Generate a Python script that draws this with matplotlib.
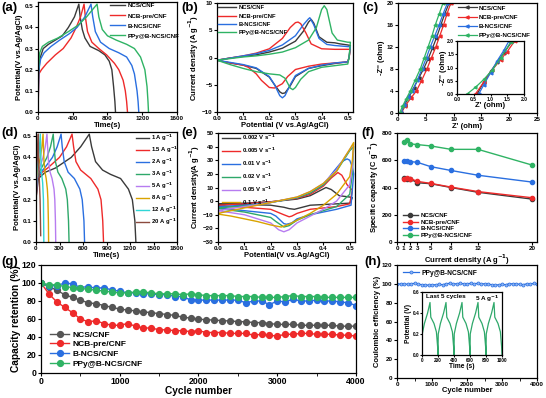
import numpy as np
import matplotlib
matplotlib.use('Agg')
import matplotlib.pyplot as plt
from matplotlib.ticker import AutoMinorLocator

plt.rcParams['font.family'] = ['Liberation Sans', 'DejaVu Sans']
plt.rcParams['font.weight'] = 'bold'
plt.rcParams['axes.labelweight'] = 'bold'
plt.rcParams['axes.linewidth'] = 0.9
plt.rcParams['xtick.major.width'] = 0.8
plt.rcParams['ytick.major.width'] = 0.8
plt.rcParams['xtick.major.size'] = 2
plt.rcParams['ytick.major.size'] = 2
plt.rcParams['xtick.labelsize'] = 4.5
plt.rcParams['ytick.labelsize'] = 4.5
plt.rcParams['xtick.major.pad'] = 1.2
plt.rcParams['ytick.major.pad'] = 1.2

K = '#3a3a3a'
R = '#ee2a2a'
B = '#2a6fe0'
G = '#2fb364'
names = ['NCS/CNF', 'NCB-pre/CNF', 'B-NCS/CNF', 'PPy@B-NCS/CNF']
cols = [K, R, B, G]

# ---- (a) GCD of four electrodes
a_t_ncs = [0, 5, 20, 60, 120, 200, 280, 350, 420, 470, 485, 510, 540, 600, 700, 770, 820, 850, 870, 885, 892]
a_v_ncs = [0, 0.15, 0.25, 0.30, 0.32, 0.34, 0.36, 0.40, 0.45, 0.51, 0.45, 0.39, 0.35, 0.31, 0.29, 0.27, 0.24, 0.20, 0.12, 0.05, 0]
a_t_ncb = [0, 10, 40, 100, 200, 290, 380, 440, 490, 530, 545, 570, 620, 700, 790, 880, 930, 980, 1005, 1020, 1030]
a_v_ncb = [0, 0.18, 0.20, 0.23, 0.27, 0.30, 0.35, 0.40, 0.45, 0.51, 0.45, 0.38, 0.33, 0.30, 0.27, 0.23, 0.20, 0.15, 0.10, 0.05, 0]
a_t_bncs = [0, 10, 30, 70, 150, 250, 360, 450, 540, 610, 630, 660, 720, 820, 930, 1020, 1080, 1110, 1140, 1152, 1160]
a_v_bncs = [0, 0.20, 0.25, 0.28, 0.31, 0.34, 0.37, 0.40, 0.45, 0.51, 0.45, 0.38, 0.33, 0.30, 0.28, 0.26, 0.22, 0.18, 0.10, 0.05, 0]
a_t_ppy = [0, 5, 20, 50, 120, 230, 350, 460, 560, 680, 700, 740, 800, 900, 1020, 1110, 1180, 1230, 1255, 1266, 1272]
a_v_ppy = [0, 0.20, 0.28, 0.31, 0.33, 0.35, 0.38, 0.41, 0.45, 0.51, 0.45, 0.39, 0.36, 0.34, 0.32, 0.30, 0.26, 0.20, 0.12, 0.05, 0]

# ---- (b) CV of four electrodes (forward + reverse)
b_v_ncs = [0, 0.05, 0.1, 0.15, 0.2, 0.25, 0.3, 0.33, 0.35, 0.36, 0.37, 0.39, 0.42, 0.45, 0.47, 0.5, 0.51,
           0.505, 0.5, 0.45, 0.4, 0.35, 0.3, 0.28, 0.26, 0.25, 0.24, 0.22, 0.2, 0.15, 0.1, 0.05, 0]
b_j_ncs = [-0.5, -0.1, 0.2, 0.5, 1.0, 1.7, 3.0, 4.8, 6.5, 7.0, 6.3, 3.8, 2.8, 2.7, 2.5, 2.3, 2.2,
           0, -0.8, -1.1, -1.5, -2.0, -3.5, -5.2, -6.5, -6.6, -6.3, -5.0, -3.6, -2.0, -1.4, -1.0, -0.5]
b_v_ncb = [0, 0.05, 0.1, 0.15, 0.2, 0.25, 0.28, 0.3, 0.31, 0.32, 0.34, 0.36, 0.4, 0.45, 0.5, 0.51,
           0.505, 0.5, 0.45, 0.4, 0.35, 0.3, 0.27, 0.25, 0.22, 0.2, 0.17, 0.15, 0.12, 0.1, 0.05, 0]
b_j_ncb = [-0.5, -0.1, 0.3, 0.8, 1.6, 3.5, 5.5, 6.4, 6.5, 6.2, 4.5, 2.5, 1.6, 1.5, 1.5, 1.5,
           0, -0.8, -1.0, -1.2, -1.6, -2.2, -3.5, -4.8, -5.6, -5.5, -4.2, -3.0, -1.8, -1.4, -1.0, -0.5]
b_v_bncs = [0, 0.05, 0.1, 0.15, 0.2, 0.25, 0.3, 0.33, 0.35, 0.355, 0.37, 0.39, 0.42, 0.45, 0.5, 0.51,
            0.505, 0.5, 0.45, 0.4, 0.35, 0.3, 0.28, 0.26, 0.25, 0.24, 0.22, 0.2, 0.15, 0.1, 0.05, 0]
b_j_bncs = [-0.5, -0.1, 0.3, 0.7, 1.3, 2.3, 4.0, 6.0, 7.1, 7.3, 6.0, 3.5, 2.4, 2.2, 2.0, 2.0,
            0, -0.8, -1.0, -1.4, -2.0, -3.3, -5.0, -7.0, -7.4, -7.0, -5.0, -3.5, -1.9, -1.3, -0.9, -0.5]
b_v_ppy = [0, 0.05, 0.1, 0.15, 0.2, 0.25, 0.3, 0.35, 0.38, 0.4, 0.41, 0.42, 0.44, 0.46, 0.5, 0.51,
           0.505, 0.5, 0.45, 0.4, 0.35, 0.32, 0.3, 0.29, 0.28, 0.26, 0.24, 0.2, 0.15, 0.1, 0.05, 0]
b_j_ppy = [-0.5, -0.2, 0.1, 0.3, 0.6, 1.0, 1.8, 3.2, 5.5, 8.8, 9.5, 8.8, 4.5, 3.2, 2.8, 2.8,
           0, -1.2, -1.5, -1.8, -2.6, -4.0, -5.5, -5.9, -5.6, -3.8, -3.2, -3.0, -2.6, -2.0, -1.3, -0.5]

# ---- (c) Nyquist
c_x_ncs = [0.6, 1.2, 2.0, 2.8, 3.7, 4.6, 5.4, 6.2, 6.9, 7.7, 8.4, 9.2]
c_y_ncs = [0, 1.5, 3.0, 4.5, 6.3, 8.0, 9.8, 11.8, 13.6, 16.0, 18.0, 20]
c_x_ncb = [0.6, 1.3, 2.3, 3.3, 4.2, 5.2, 6.0, 6.8, 7.5, 8.2, 8.8, 9.5]
c_y_ncb = [0, 1.3, 2.7, 4.0, 5.8, 8.0, 10.0, 12.0, 14.0, 16.0, 18.0, 20]
c_x_bncs = [0.6, 1.1, 1.8, 2.6, 3.5, 4.3, 5.1, 5.8, 6.6, 7.4, 8.1, 8.9]
c_y_bncs = [0, 1.5, 3.0, 4.0, 6.0, 8.0, 10.0, 12.0, 14.0, 16.0, 18.0, 20]
c_x_ppy = [0.3, 0.8, 1.5, 2.2, 3.1, 4.0, 4.7, 5.4, 6.1, 6.7, 7.4, 8.1]
c_y_ppy = [0, 1.2, 2.6, 4.0, 6.0, 8.0, 10.0, 12.0, 14.0, 16.0, 18.0, 20]
ci_x_ncs = [0.6, 0.8, 1.0, 1.2, 1.4, 1.65]
ci_y_ncs = [0, 0.45, 0.85, 1.2, 1.55, 2.0]
ci_x_ncb = [0.55, 0.8, 1.05, 1.3, 1.5, 1.72]
ci_y_ncb = [0, 0.45, 0.9, 1.3, 1.6, 2.0]
ci_x_bncs = [0.65, 0.8, 1.0, 1.2, 1.4, 1.55]
ci_y_bncs = [0, 0.35, 0.8, 1.25, 1.65, 2.0]
ci_x_ppy = [0.3, 0.55, 0.8, 1.05, 1.3, 1.6]
ci_y_ppy = [0, 0.25, 0.55, 0.9, 1.35, 1.95]

# ---- (d) GCD of PPy@B-NCS/CNF at different currents
d_labels = ['1 A g$^{-1}$', '1.5 A g$^{-1}$', '2 A g$^{-1}$', '3 A g$^{-1}$',
            '5 A g$^{-1}$', '8 A g$^{-1}$', '12 A g$^{-1}$', '20 A g$^{-1}$']
d_cols = [K, R, B, '#2ea86a', '#b77cf0', '#d9a300', '#2fd6d6', '#8b4a3e']
d_t = [
    [0, 5, 30, 120, 250, 450, 570, 680, 710, 760, 850, 950, 1080, 1180, 1230, 1262, 1275],
    [0, 4, 20, 80, 150, 300, 390, 460, 480, 510, 570, 700, 790, 830, 852, 862],
    [0, 3, 15, 60, 110, 210, 270, 320, 335, 360, 410, 490, 560, 590, 612, 620],
    [0, 2, 10, 40, 70, 140, 185, 220, 230, 248, 280, 330, 380, 400, 415, 422],
    [0, 2, 8, 25, 45, 90, 118, 140, 148, 160, 180, 205, 230, 240, 248, 252],
    [0, 1, 5, 15, 28, 55, 75, 90, 95, 102, 115, 130, 145, 152, 158, 161],
    [0, 1, 3, 18, 35, 55, 62, 70, 85, 95, 100],
    [0, 1, 2, 10, 18, 30, 33, 42, 52, 57, 60],
]
d_v = [
    [0, 0.22, 0.30, 0.33, 0.35, 0.40, 0.45, 0.51, 0.45, 0.38, 0.34, 0.32, 0.30, 0.25, 0.20, 0.10, 0],
    [0, 0.22, 0.30, 0.33, 0.35, 0.40, 0.45, 0.51, 0.45, 0.38, 0.34, 0.30, 0.25, 0.20, 0.10, 0],
    [0, 0.22, 0.30, 0.33, 0.35, 0.40, 0.45, 0.51, 0.45, 0.38, 0.33, 0.30, 0.25, 0.20, 0.10, 0],
    [0, 0.22, 0.30, 0.33, 0.35, 0.40, 0.45, 0.51, 0.45, 0.38, 0.33, 0.30, 0.25, 0.20, 0.10, 0],
    [0, 0.22, 0.30, 0.33, 0.35, 0.40, 0.45, 0.51, 0.45, 0.38, 0.33, 0.30, 0.25, 0.20, 0.10, 0],
    [0, 0.22, 0.30, 0.33, 0.35, 0.40, 0.45, 0.51, 0.45, 0.38, 0.33, 0.30, 0.25, 0.20, 0.10, 0],
    [0, 0.22, 0.30, 0.36, 0.40, 0.51, 0.40, 0.33, 0.28, 0.20, 0],
    [0, 0.22, 0.30, 0.36, 0.40, 0.51, 0.40, 0.30, 0.20, 0.10, 0.03],
]

# ---- (e) CV of PPy@B-NCS/CNF at different scan rates
e_labels = ['0.002 V s$^{-1}$', '0.005 V s$^{-1}$', '0.01 V s$^{-1}$',
            '0.02 V s$^{-1}$', '0.05 V s$^{-1}$', '0.1 V s$^{-1}$']
e_cols = [K, R, B, '#2ea86a', '#b77cf0', '#d9a300']
e_v = [
    [0, 0.1, 0.2, 0.3, 0.35, 0.38, 0.41, 0.43, 0.46, 0.5, 0.51,
     0.5, 0.45, 0.4, 0.35, 0.31, 0.29, 0.27, 0.25, 0.2, 0.1, 0],
    [0, 0.1, 0.2, 0.3, 0.35, 0.4, 0.43, 0.455, 0.47, 0.49, 0.51,
     0.5, 0.45, 0.4, 0.35, 0.3, 0.28, 0.27, 0.25, 0.2, 0.1, 0],
    [0, 0.1, 0.2, 0.3, 0.35, 0.4, 0.44, 0.47, 0.49, 0.5, 0.51, 0.515,
     0.505, 0.45, 0.4, 0.35, 0.3, 0.28, 0.26, 0.25, 0.22, 0.2, 0.1, 0],
    [0, 0.1, 0.2, 0.3, 0.35, 0.4, 0.45, 0.48, 0.5, 0.515,
     0.51, 0.5, 0.45, 0.4, 0.35, 0.3, 0.27, 0.25, 0.22, 0.2, 0.1, 0],
    [0, 0.1, 0.2, 0.3, 0.35, 0.4, 0.45, 0.48, 0.5, 0.515,
     0.51, 0.5, 0.45, 0.4, 0.35, 0.3, 0.27, 0.25, 0.23, 0.2, 0.1, 0],
    [0, 0.1, 0.2, 0.3, 0.35, 0.4, 0.45, 0.48, 0.5, 0.515,
     0.51, 0.5, 0.45, 0.4, 0.35, 0.3, 0.27, 0.24, 0.2, 0.15, 0.1, 0.05, 0],
]
e_j = [
    [-2, -1.5, -0.5, 1.5, 4, 7, 10, 8.5, 4, 3, 2.5,
     -1.5, -2, -2.5, -3, -5, -6, -5.5, -4.5, -3, -2.5, -2],
    [-3, -2, -0.5, 2, 5, 11, 17, 21, 19, 12, 8,
     -2, -4, -5, -6, -9, -11, -11.5, -10, -6, -4.5, -3.5],
    [-4, -3, -1, 2.5, 6, 12, 22, 29, 31, 30, 25, 20,
     -3, -6, -8, -10, -13, -16, -17, -16.5, -11, -9, -7, -5],
    [-5, -3.5, -1, 2.5, 6, 12, 22, 31, 37, 40,
     20, 5, -4, -7, -10, -14, -18, -19, -15, -12, -8, -5.5],
    [-7, -4, -1, 3, 7, 13, 23, 32, 38, 42,
     25, 12, 0, -6, -11, -16, -21, -22.5, -21, -16, -10, -7],
    [-9, -5, -1, 3, 7, 13, 22, 32, 38, 43,
     30, 18, 5, -3, -9, -14, -17, -19, -17.5, -15, -13, -11, -9.5],
]

# ---- (f) rate capability
f_i = [1, 1.5, 2, 3, 5, 8, 12, 20]
f_ncs = [470, 465, 462, 435, 428, 400, 365, 315]
f_ncb = [465, 468, 465, 445, 430, 403, 370, 325]
f_bncs = [595, 595, 590, 585, 553, 525, 490, 440]
f_ppy = [735, 750, 720, 715, 705, 680, 680, 565]

# ---- (g) cycling stability
g_cyc = [0, 100, 200, 300, 400, 500, 600, 700, 800, 900, 1000, 1100, 1200, 1300, 1400, 1500,
         1600, 1700, 1800, 1900, 2000, 2100, 2200, 2300, 2400, 2500, 2600, 2700, 2800, 2900,
         3000, 3100, 3200, 3300, 3400, 3500, 3600, 3700, 3800, 3900, 4000]
g_ncs = [100, 96, 92, 87, 84, 81, 78, 77, 75, 73, 71, 70, 69, 68, 67, 66, 65, 64, 62, 61,
         60, 59, 59, 58, 58, 57, 57, 56, 56, 55, 54, 54, 54, 53, 53, 53, 53, 53, 52, 52, 52]
g_ncb = [100, 88, 79, 73, 67, 60, 57, 58, 55, 53, 53, 55, 52, 50, 50, 48, 48, 47, 47, 46,
         47, 45, 45, 45, 44, 44, 44, 42, 43, 42, 41, 43, 43, 44, 44, 43, 43, 43, 42, 42, 41]
g_bncs = [100, 97, 97, 100, 99, 95, 96, 94, 95, 92, 91, 89, 89, 88, 88, 87, 87, 85, 85, 81,
          81, 81, 81, 81, 81, 81, 78, 80, 80, 76, 80, 79, 82, 80, 80, 81, 80, 80, 79, 78, 75]
g_ppy = [100, 98, 98, 96, 95, 94, 93, 92, 91, 90, 89, 89, 90, 90, 89, 88, 88, 88, 87, 88,
         87, 86, 86, 86, 86, 85, 85, 85, 84, 84, 84, 85, 86, 85, 85, 85, 84, 84, 84, 84, 84]

# ---- (h) coulombic efficiency + inset GCD
h_ce = [99.5, 100, 100, 99.5, 100, 100.5, 100, 99, 99, 98.5, 99, 99, 99.5, 99, 100, 100.5,
        100, 100, 100.5, 100, 100, 100.5, 100, 100.5, 100, 100, 100, 99, 98.5, 99, 99.5,
        99, 100, 100, 100, 99.5, 99, 100, 99.5, 100.5, 99.5]
hi_t = [0, 3, 30, 70, 100, 110, 150, 180, 195, 200,
        203, 230, 270, 300, 310, 350, 380, 395, 400,
        403, 430, 470, 500, 510, 550, 580, 595, 600,
        603, 630, 670, 700, 710, 750, 780, 795, 800,
        803, 830, 870, 900, 910, 950, 980, 995, 1000]
hi_v = [0, 0.2, 0.3, 0.4, 0.5, 0.36, 0.3, 0.22, 0.08, 0,
        0.2, 0.3, 0.4, 0.5, 0.36, 0.3, 0.22, 0.08, 0,
        0.2, 0.3, 0.4, 0.5, 0.36, 0.3, 0.22, 0.08, 0,
        0.2, 0.3, 0.4, 0.5, 0.36, 0.3, 0.22, 0.08, 0,
        0.2, 0.3, 0.4, 0.5, 0.36, 0.3, 0.22, 0.08, 0]

W, H = 546, 398
fig = plt.figure(figsize=(W / 100, H / 100), dpi=100)


def px_axes(l, t, r, b):
    return fig.add_axes([l / W, 1 - b / H, (r - l) / W, (b - t) / H])


def leg(ax, x, y, fs=4.5, spacing=0.35, hl=2.2):
    return ax.legend(loc='upper left', bbox_to_anchor=(x, y), frameon=False,
                     fontsize=fs, handlelength=hl, handletextpad=0.4,
                     labelspacing=spacing, borderaxespad=0, borderpad=0)


lab_fs = 5.5
pan_fs = 9.5

# (a)
ax = px_axes(38, 2, 177, 112)
for t, v, c, n in zip([a_t_ncs, a_t_ncb, a_t_bncs, a_t_ppy],
                      [a_v_ncs, a_v_ncb, a_v_bncs, a_v_ppy], cols, names):
    ax.plot(t, v, color=c, lw=1.0, label=n)
ax.set_xlim(0, 1600)
ax.set_ylim(0, 0.52)
ax.set_xticks([0, 400, 800, 1200, 1600])
ax.set_yticks([0, 0.1, 0.2, 0.3, 0.4, 0.5])
ax.set_xlabel('Time(s)', fontsize=lab_fs, labelpad=0.5)
ax.set_ylabel('Potential(V vs.Ag/AgCl)', fontsize=lab_fs, labelpad=1)
leg(ax, 0.52, 0.99, fs=4.5, spacing=0.75, hl=2.3)

# (b)
ax = px_axes(217, 3, 353, 112)
for v, j, c, n in zip([b_v_ncs, b_v_ncb, b_v_bncs, b_v_ppy],
                      [b_j_ncs, b_j_ncb, b_j_bncs, b_j_ppy], cols, names):
    ax.plot(v, j, color=c, lw=1.0, label=n)
ax.set_xlim(0, 0.52)
ax.set_ylim(-10, 10)
ax.set_xticks([0, 0.1, 0.2, 0.3, 0.4, 0.5])
ax.set_yticks([-10, -5, 0, 5, 10])
ax.set_xlabel('Potential (V vs.Ag/AgCl)', fontsize=lab_fs, labelpad=0.5)
ax.set_ylabel('Current density (A g$^{-1}$)', fontsize=lab_fs, labelpad=1)
leg(ax, 0.01, 0.98, fs=4.2, spacing=0.55, hl=3.0)

# (c)
ax = px_axes(398, 3, 537, 113)
for x, y, c, n in zip([c_x_ncs, c_x_ncb, c_x_bncs, c_x_ppy],
                      [c_y_ncs, c_y_ncb, c_y_bncs, c_y_ppy], cols, names):
    ax.plot(x, y, color=c, lw=0.9, marker='<', ms=2.2, label=n)
ax.set_xlim(0, 25)
ax.set_ylim(0, 20)
ax.set_xticks([0, 5, 10, 15, 20, 25])
ax.set_yticks([0, 4, 8, 12, 16, 20])
ax.set_xlabel("Z' (ohm)", fontsize=lab_fs, labelpad=0.5)
ax.set_ylabel("-Z'' (ohm)", fontsize=lab_fs, labelpad=1)
leg(ax, 0.43, 0.98, fs=4.5, spacing=0.6, hl=3.0)
axi = px_axes(457, 41, 524, 94)
for x, y, c in zip([ci_x_ncs, ci_x_ncb, ci_x_bncs, ci_x_ppy],
                   [ci_y_ncs, ci_y_ncb, ci_y_bncs, ci_y_ppy], cols):
    axi.plot(x, y, color=c, lw=0.9, marker='<', ms=2)
axi.set_xlim(0, 2)
axi.set_ylim(0, 2)
axi.set_xticks([0, 0.5, 1.0, 1.5, 2.0])
axi.set_yticks([0, 0.5, 1.0, 1.5, 2.0])
axi.tick_params(labelsize=3.6, length=1.2, pad=0.8)
axi.set_xlabel("Z' (ohm)", fontsize=5.5, labelpad=0)
axi.set_ylabel("-Z'' (ohm)", fontsize=5.5, labelpad=0)

# (d)
ax = px_axes(36, 132, 177, 242)
for t, v, c, n in zip(d_t, d_v, d_cols, d_labels):
    ax.plot(t, v, color=c, lw=1.0, label=n)
ax.set_xlim(0, 1800)
ax.set_ylim(0, 0.52)
ax.set_xticks([0, 300, 600, 900, 1200, 1500, 1800])
ax.set_yticks([0, 0.1, 0.2, 0.3, 0.4, 0.5])
ax.set_xlabel('Time(s)', fontsize=lab_fs, labelpad=0.5)
ax.set_ylabel('Potential(V vs.Ag/AgCl)', fontsize=lab_fs, labelpad=1)
leg(ax, 0.71, 0.99, fs=4.2, spacing=0.28, hl=2.2)

# (e)
ax = px_axes(218, 133, 355, 242)
for v, j, c, n in zip(e_v, e_j, e_cols, e_labels):
    ax.plot(v, j, color=c, lw=1.0, label=n)
ax.set_xlim(0, 0.52)
ax.set_ylim(-30, 50)
ax.set_xticks([0, 0.1, 0.2, 0.3, 0.4, 0.5])
ax.set_yticks([-30, -20, -10, 0, 10, 20, 30, 40, 50])
ax.set_xlabel('Potential(V vs.Ag/AgCl)', fontsize=lab_fs, labelpad=0.5)
ax.set_ylabel('Current density(A g$^{-1}$)', fontsize=lab_fs, labelpad=1)
leg(ax, 0.03, 1.0, fs=4.3, spacing=0.6, hl=3.0)

# (f)
ax = px_axes(397, 133, 537, 242)
for y, c, n in zip([f_ncs, f_ncb, f_bncs, f_ppy], cols, names):
    ax.plot(f_i, y, color=c, lw=1.0, marker='o', ms=3, mfc=c, mec=c, label=n)
ax.set_xlim(0, 20.75)
ax.set_ylim(0, 800)
ax.set_xticks([0, 1, 2, 3, 5, 8, 12, 20])
ax.set_yticks([0, 200, 400, 600, 800])
ax.set_xlabel('Current density (A g$^{-1}$)', fontsize=lab_fs, labelpad=0.5)
ax.set_ylabel('Specific capacity (C g$^{-1}$)', fontsize=lab_fs, labelpad=1)
leg(ax, 0.04, 0.27, fs=4.5, spacing=0.22, hl=2.5)

# (g)
ax = px_axes(41, 265, 356, 373)
for y, c, n in zip([g_ncs, g_ncb, g_bncs, g_ppy], ['#555555', R, B, G], names):
    ax.plot(g_cyc, y, color=c, lw=1.0, marker='o', ms=4.2, mfc=c, mec=c, label=n)
ax.set_xlim(0, 4000)
ax.set_ylim(0, 120)
ax.set_xticks([0, 1000, 2000, 3000, 4000])
ax.set_yticks([0, 20, 40, 60, 80, 100, 120])
ax.xaxis.set_minor_locator(AutoMinorLocator(2))
ax.tick_params(labelsize=6.3)
ax.set_xlabel('Cycle number', fontsize=7.3, labelpad=0)
ax.set_ylabel('Capacity retention (%)', fontsize=7.3, labelpad=1)
leg(ax, 0.03, 0.39, fs=6.0, spacing=0.22, hl=2.2)

# (h)
ax = px_axes(397, 265, 537, 378)
ax.plot(g_cyc, h_ce, color=B, lw=0.9, marker='o', ms=2.2, mfc='#8fb6f5', mec=B,
        mew=0.5, label='PPy@B-NCS/CNF')
ax.set_xlim(0, 4000)
ax.set_ylim(0, 120)
ax.set_xticks([0, 1000, 2000, 3000, 4000])
ax.set_yticks([0, 20, 40, 60, 80, 100, 120])
ax.xaxis.set_minor_locator(AutoMinorLocator(2))
ax.set_xlabel('Cycle number', fontsize=lab_fs, labelpad=0)
ax.set_ylabel('Coulombic efficiency (%)', fontsize=lab_fs, labelpad=1)
leg(ax, 0.04, 0.96, fs=4.8, spacing=0.3, hl=2.5)
axi = px_axes(422, 292, 502, 355)
axi.plot(hi_t, hi_v, color='#2ea86a', lw=0.9)
axi.set_xlim(0, 1000)
axi.set_ylim(0, 0.6)
axi.set_xticks([0, 200, 400, 600, 800, 1000])
axi.set_yticks([0, 0.2, 0.4, 0.6])
axi.tick_params(labelsize=3.4, length=1.2, pad=0.8)
axi.set_xlabel('Time (s)', fontsize=4.8, labelpad=0)
axi.set_ylabel('Potential (V)', fontsize=4.8, labelpad=0.5)
axi.text(0.05, 0.97, 'Last 5 cycles', transform=axi.transAxes, fontsize=4.6,
         ha='left', va='top')
axi.text(0.97, 0.97, '5 A g$^{-1}$', transform=axi.transAxes, fontsize=4.6,
         ha='right', va='top')

# panel letters
for s, x, y in [('(a)', 1, 8), ('(b)', 181, 8), ('(c)', 362, 8),
                ('(d)', 1, 133), ('(e)', 181, 133), ('(f)', 361, 133),
                ('(g)', 1, 262), ('(h)', 364, 262)]:
    fig.text(x / W, 1 - y / H, s, fontsize=pan_fs, fontweight='bold', ha='left', va='center')

fig.savefig('out.png', dpi=100)
